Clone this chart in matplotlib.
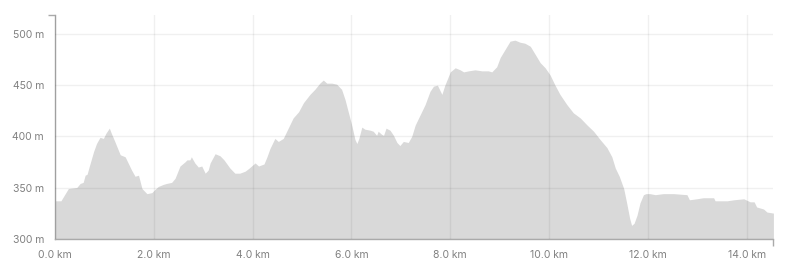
import numpy as np
import matplotlib.pyplot as plt

# elevation profile
dist_km = [0.0, 0.12, 0.27, 0.44, 0.51, 0.57, 0.61, 0.65, 0.69, 0.78, 0.84, 0.91, 0.98,
           1.03, 1.10, 1.14, 1.21, 1.32, 1.42, 1.48, 1.55, 1.62, 1.69, 1.76, 1.86, 1.96,
           2.02, 2.09, 2.19, 2.26, 2.36, 2.43, 2.53, 2.63, 2.67, 2.73, 2.76, 2.83, 2.90,
           2.97, 3.04, 3.10, 3.14, 3.24, 3.34, 3.42, 3.54, 3.64, 3.74, 3.85, 3.93, 4.05,
           4.12, 4.23, 4.29, 4.35, 4.45, 4.52, 4.62, 4.72, 4.82, 4.93, 5.03, 5.16, 5.26,
           5.36, 5.43, 5.50, 5.60, 5.70, 5.80, 5.87, 5.94, 6.01, 6.07, 6.11, 6.15, 6.21,
           6.27, 6.38, 6.44, 6.51, 6.54, 6.61, 6.65, 6.70, 6.78, 6.85, 6.92, 6.98, 7.05,
           7.15, 7.22, 7.29, 7.39, 7.49, 7.59, 7.66, 7.74, 7.83, 7.89, 8.00, 8.10, 8.20,
           8.27, 8.37, 8.50, 8.64, 8.77, 8.84, 8.94, 9.01, 9.11, 9.21, 9.31, 9.41, 9.51,
           9.62, 9.72, 9.82, 9.92, 10.02, 10.12, 10.22, 10.36, 10.49, 10.63, 10.77, 10.90,
           11.03, 11.17, 11.27, 11.34, 11.42, 11.51, 11.57, 11.63, 11.67, 11.72, 11.78,
           11.84, 11.91, 11.96, 12.04, 12.15, 12.31, 12.52, 12.79, 12.84, 12.99, 13.12,
           13.33, 13.36, 13.60, 13.74, 13.94, 14.07, 14.15, 14.20, 14.27, 14.34, 14.41,
           14.54]
elev_m = [337, 337, 349, 350, 354, 355, 362, 363, 370, 385, 393, 399, 398,
          403, 408, 403, 395, 382, 380, 374, 367, 361, 362, 349, 344, 345,
          348, 351, 353, 354, 355, 359, 371, 375, 377, 377, 380, 374, 370,
          371, 364, 367, 374, 383, 381, 377, 369, 364, 364, 366, 369, 374,
          371, 373, 380, 388, 398, 395, 398, 408, 418, 424, 433, 441, 446,
          452, 455, 452, 452, 451, 446, 436, 423, 410, 397, 393, 398, 409,
          407, 406, 405, 401, 405, 402, 401, 408, 406, 401, 394, 391, 395,
          394, 400, 411, 421, 431, 444, 449, 450, 441, 450, 463, 467, 465,
          463, 464, 465, 464, 464, 463, 468, 477, 485, 493, 494, 492, 491,
          488, 480, 472, 467, 460, 450, 441, 431, 423, 418, 411, 405,
          397, 389, 380, 369, 361, 349, 335, 320, 313, 315, 323,
          335, 343, 344, 344, 343, 344, 344, 343, 338, 339, 340,
          340, 337, 337, 338, 339, 336, 336, 331, 330, 329, 326,
          325]

x_ticks = [0, 2, 4, 6, 8, 10, 12, 14]
y_ticks = [300, 350, 400, 450, 500]
y_top = 519

plt.rcParams['font.family'] = ['Inter', 'DejaVu Sans']

fig = plt.figure(figsize=(8, 2.7), dpi=100)
ax = fig.add_axes([0.06875, 0.116, 0.898, 0.83])

ax.fill_between(dist_km, elev_m, 300, color='#d9d9d9', linewidth=0, zorder=1)

ax.set_xlim(0, dist_km[-1])
ax.set_ylim(300, y_top)
ax.set_xticks(x_ticks)
ax.set_xticklabels([f"{v:.1f} km" for v in x_ticks])
ax.set_yticks(y_ticks)
ax.set_yticklabels([f"{v} m" for v in y_ticks])
# outer ticks at the ends of each axis line
ax.set_xticks([0, dist_km[-1]], minor=True)
ax.set_yticks([300, y_top], minor=True)

ax.grid(True, which='major', color='black', alpha=0.06, linewidth=1, zorder=2)
ax.set_axisbelow(False)

ax.tick_params(which='major', length=0, labelsize=7.5, labelcolor='#808080', pad=8)
ax.tick_params(which='minor', length=5, width=1, color='#aaaaaa')

for s in ['top', 'right']:
    ax.spines[s].set_visible(False)
for s in ['left', 'bottom']:
    ax.spines[s].set_color('#aaaaaa')
    ax.spines[s].set_linewidth(1)

fig.savefig('out.png', dpi=100)
